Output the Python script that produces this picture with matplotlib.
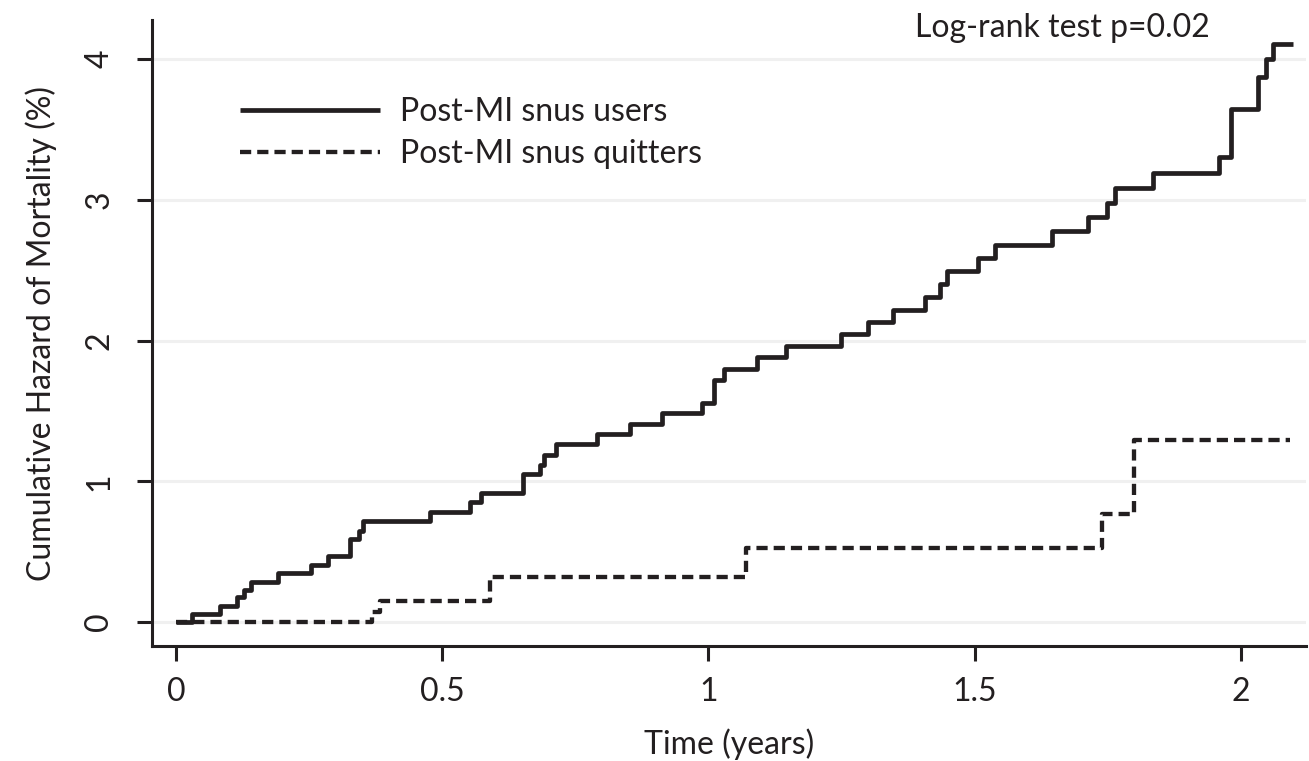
import matplotlib
matplotlib.use("Agg")
import matplotlib.pyplot as plt

plt.rcParams['font.family'] = ['Lato', 'DejaVu Sans']

# Post-MI snus users (solid) - step times (years) and cumulative hazard (%)
users_t = [0, 0.031, 0.083, 0.114, 0.127, 0.141, 0.192, 0.254, 0.286, 0.327,
           0.343, 0.352, 0.477, 0.553, 0.573, 0.652, 0.684, 0.692, 0.714, 0.791,
           0.853, 0.912, 0.988, 1.011, 1.029, 1.091, 1.145, 1.249, 1.300, 1.346,
           1.406, 1.434, 1.449, 1.506, 1.538, 1.645, 1.712, 1.748, 1.763, 1.835,
           1.958, 1.981, 2.033, 2.047, 2.060, 2.098]
users_v = [0, 0.055, 0.116, 0.175, 0.227, 0.287, 0.346, 0.405, 0.469, 0.587,
           0.646, 0.72, 0.784, 0.85, 0.914, 1.053, 1.117, 1.19, 1.265, 1.336,
           1.41, 1.483, 1.558, 1.72, 1.797, 1.88, 1.963, 2.046, 2.134, 2.22,
           2.31, 2.40, 2.496, 2.586, 2.678, 2.78, 2.88, 2.98, 3.086, 3.19,
           3.306, 3.643, 3.87, 4.0, 4.11, 4.11]

# Post-MI snus quitters (dashed)
quit_t = [0, 0.368, 0.383, 0.590, 1.070, 1.740, 1.800, 2.093]
quit_v = [0, 0.073, 0.151, 0.322, 0.526, 0.767, 1.293, 1.293]

x_ticks = [0, 0.5, 1, 1.5, 2]
x_tick_labels = ['0', '0.5', '1', '1.5', '2']
y_ticks = [0, 1, 2, 3, 4]
y_tick_labels = ['0', '1', '2', '3', '4']

labels = ['Post-MI snus users', 'Post-MI snus quitters']
annotation = 'Log-rank test p=0.02'

ink = '#231f20'
fs = 23

fig = plt.figure(figsize=(13.09, 7.61), dpi=100)
ax = fig.add_axes([0.1161, 0.1511, 0.8815, 0.8226])

for yv in y_ticks:
    ax.axhline(yv, color='#f0f0f0', lw=2.2, zorder=0)

ax.step(users_t, users_v, where='post', color=ink, lw=3.4, label=labels[0],
        solid_capstyle='butt', zorder=3)
ax.step(quit_t, quit_v, where='post', color=ink, lw=3.1,
        linestyle=(0, (2.6, 1.4)), dash_capstyle='butt', label=labels[1], zorder=3)

ax.set_xlim(-0.045, 2.122)
ax.set_ylim(-0.1705, 4.277)

ax.set_xticks(x_ticks)
ax.set_xticklabels(x_tick_labels)
ax.set_yticks(y_ticks)
ax.set_yticklabels(y_tick_labels, rotation=90, va='center')

for s in ['top', 'right']:
    ax.spines[s].set_visible(False)
for s in ['left', 'bottom']:
    ax.spines[s].set_linewidth(2.2)
    ax.spines[s].set_color(ink)

ax.tick_params(axis='both', direction='out', length=11, width=2.2, color=ink,
               labelsize=fs, labelcolor=ink)
ax.tick_params(axis='x', pad=11)
ax.tick_params(axis='y', pad=16)

ax.set_xlabel('Time (years)', fontsize=fs, color=ink, labelpad=16)
ax.set_ylabel('Cumulative Hazard of Mortality (%)', fontsize=fs, color=ink, labelpad=20)

leg = ax.legend(loc='upper left', bbox_to_anchor=(0.065, 0.897), frameon=False,
                fontsize=fs, handlelength=4.4, handletextpad=0.62, labelspacing=0.38,
                borderaxespad=0)
for t in leg.get_texts():
    t.set_color(ink)

fig.text(0.9245, 0.963, annotation, ha='right', va='center', fontsize=fs, color=ink)

fig.savefig('out.png', dpi=100)
